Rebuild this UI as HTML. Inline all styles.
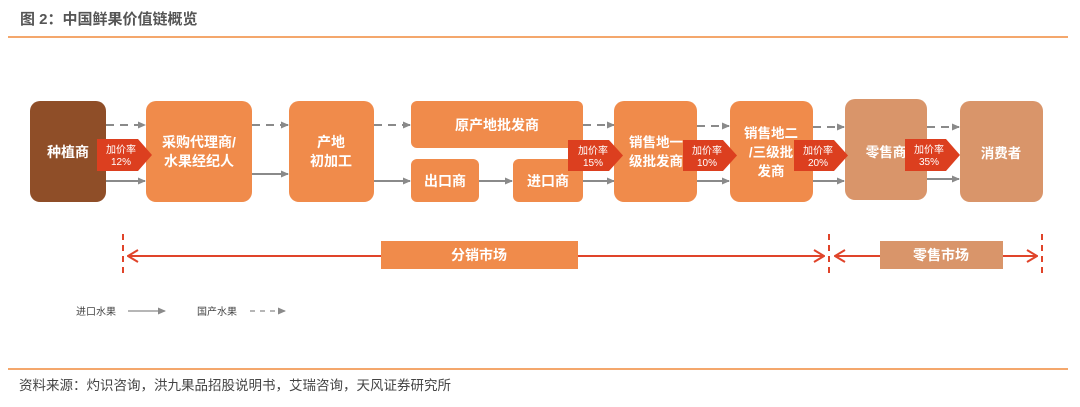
<!DOCTYPE html>
<html><head><meta charset="utf-8"><style>
body{margin:0;background:#fff;width:1080px;height:402px;overflow:hidden}
svg text{font-family:"Liberation Sans","Noto Sans CJK SC",sans-serif}
</style></head><body>
<svg width="1080" height="402" viewBox="0 0 1080 402" xmlns="http://www.w3.org/2000/svg">
<defs>
<marker id="ga" markerWidth="8" markerHeight="8" refX="7" refY="4" orient="auto" markerUnits="userSpaceOnUse"><path d="M0,0.5 L8,4 L0,7.5z" fill="#8a8a8a"/></marker>
<marker id="rs" markerWidth="12" markerHeight="14" refX="1" refY="7" orient="auto" markerUnits="userSpaceOnUse"><path d="M11,1 L1,7 L11,13" fill="none" stroke="#e0442a" stroke-width="2"/></marker>
<marker id="re" markerWidth="12" markerHeight="14" refX="11" refY="7" orient="auto" markerUnits="userSpaceOnUse"><path d="M1,1 L11,7 L1,13" fill="none" stroke="#e0442a" stroke-width="2"/></marker>
</defs>
<text x="20" y="24" font-size="15" font-weight="bold" fill="#555">图 2：中国鲜果价值链概览</text>
<line x1="8" y1="37" x2="1068" y2="37" stroke="#f08a3c" stroke-width="1.5"/>

<g stroke="#8a8a8a" stroke-width="2" fill="none">
<line x1="106" y1="125" x2="145" y2="125" stroke-dasharray="8,6" marker-end="url(#ga)"/>
<line x1="106" y1="181" x2="145" y2="181" marker-end="url(#ga)"/>
<line x1="252" y1="125" x2="288" y2="125" stroke-dasharray="8,6" marker-end="url(#ga)"/>
<line x1="252" y1="174" x2="288" y2="174" marker-end="url(#ga)"/>
<line x1="374" y1="125" x2="410" y2="125" stroke-dasharray="8,6" marker-end="url(#ga)"/>
<line x1="374" y1="181" x2="410" y2="181" marker-end="url(#ga)"/>
<line x1="479" y1="181" x2="512" y2="181" marker-end="url(#ga)"/>
<line x1="583" y1="125" x2="614" y2="125" stroke-dasharray="8,6" marker-end="url(#ga)"/>
<line x1="583" y1="181" x2="614" y2="181" marker-end="url(#ga)"/>
<line x1="697" y1="126" x2="729" y2="126" stroke-dasharray="8,6" marker-end="url(#ga)"/>
<line x1="697" y1="181" x2="729" y2="181" marker-end="url(#ga)"/>
<line x1="813" y1="127" x2="844" y2="127" stroke-dasharray="8,6" marker-end="url(#ga)"/>
<line x1="813" y1="181" x2="844" y2="181" marker-end="url(#ga)"/>
<line x1="927" y1="127" x2="959" y2="127" stroke-dasharray="8,6" marker-end="url(#ga)"/>
<line x1="927" y1="179" x2="959" y2="179" marker-end="url(#ga)"/>
</g>

<g fill="#f08b4b">
<rect x="30" y="101" width="76" height="101" rx="10" fill="#8f4e28"/>
<rect x="146" y="101" width="106" height="101" rx="10"/>
<rect x="289" y="101" width="85" height="101" rx="10"/>
<rect x="411" y="101" width="172" height="47" rx="6"/>
<rect x="411" y="159" width="68" height="43" rx="6"/>
<rect x="513" y="159" width="70" height="43" rx="6"/>
<rect x="614" y="101" width="83" height="101" rx="10"/>
<rect x="730" y="101" width="83" height="101" rx="10"/>
<rect x="845" y="99" width="82" height="101" rx="10" fill="#d9956a"/>
<rect x="960" y="101" width="83" height="101" rx="10" fill="#d9956a"/>
</g>
<g fill="#fff" font-weight="bold" font-size="14" text-anchor="middle">
<text x="68" y="157">种植商</text>
<text x="199" y="147">采购代理商/</text>
<text x="199" y="166">水果经纪人</text>
<text x="331" y="147">产地</text>
<text x="331" y="166">初加工</text>
<text x="497" y="130">原产地批发商</text>
<text x="445" y="186">出口商</text>
<text x="548" y="186">进口商</text>
</g>
<g fill="#fff" font-weight="bold" font-size="13.5" text-anchor="middle">
<text x="656" y="147">销售地一</text>
<text x="656" y="166">级批发商</text>
<text x="771" y="138">销售地二</text>
<text x="771" y="157">/三级批</text>
<text x="771" y="176">发商</text>
<text x="886" y="157">零售商</text>
<text x="1001" y="158">消费者</text>
</g>

<g fill="#dc3f1f">
<path d="M97,139 H138 L152,155 L138,171 H97z"/>
<path d="M568,140 H609 L623,155.5 L609,171 H568z"/>
<path d="M683,140 H723 L737,155.5 L723,171 H683z"/>
<path d="M794,140 H834 L848,155.5 L834,171 H794z"/>
<path d="M905,139 H946 L960,155 L946,171 H905z"/>
</g>
<g fill="#fff" font-size="10" text-anchor="middle">
<text x="121" y="153">加价率</text><text x="121" y="165">12%</text>
<text x="593" y="154">加价率</text><text x="593" y="166">15%</text>
<text x="707" y="154">加价率</text><text x="707" y="166">10%</text>
<text x="818" y="154">加价率</text><text x="818" y="166">20%</text>
<text x="929" y="153">加价率</text><text x="929" y="165">35%</text>
</g>

<g stroke="#e0442a" stroke-width="2" fill="none">
<line x1="123" y1="234" x2="123" y2="278" stroke-dasharray="6,5"/>
<line x1="829" y1="234" x2="829" y2="278" stroke-dasharray="6,5"/>
<line x1="1042" y1="234" x2="1042" y2="278" stroke-dasharray="6,5"/>
<line x1="128" y1="256" x2="381" y2="256" marker-start="url(#rs)"/>
<line x1="578" y1="256" x2="824" y2="256" marker-end="url(#re)"/>
<line x1="835" y1="256" x2="880" y2="256" marker-start="url(#rs)"/>
<line x1="1003" y1="256" x2="1037" y2="256" marker-end="url(#re)"/>
</g>
<rect x="381" y="241" width="197" height="28" fill="#f08b4b"/>
<rect x="880" y="241" width="123" height="28" fill="#d9956a"/>
<g fill="#fff" font-weight="bold" font-size="14" text-anchor="middle">
<text x="479" y="260">分销市场</text>
<text x="941" y="260">零售市场</text>
</g>

<g font-size="10" fill="#444">
<text x="76" y="315">进口水果</text>
<text x="197" y="315">国产水果</text>
</g>
<line x1="128" y1="311" x2="165" y2="311" stroke="#8a8a8a" stroke-width="1.3" marker-end="url(#ga)"/>
<line x1="250" y1="311" x2="285" y2="311" stroke="#8a8a8a" stroke-width="1.3" stroke-dasharray="5,5" marker-end="url(#ga)"/>

<line x1="8" y1="369" x2="1068" y2="369" stroke="#f08a3c" stroke-width="1.5"/>
<text x="19" y="390" font-size="13.5" fill="#444">资料来源：灼识咨询，洪九果品招股说明书，艾瑞咨询，天风证券研究所</text>
</svg>
</body></html>
